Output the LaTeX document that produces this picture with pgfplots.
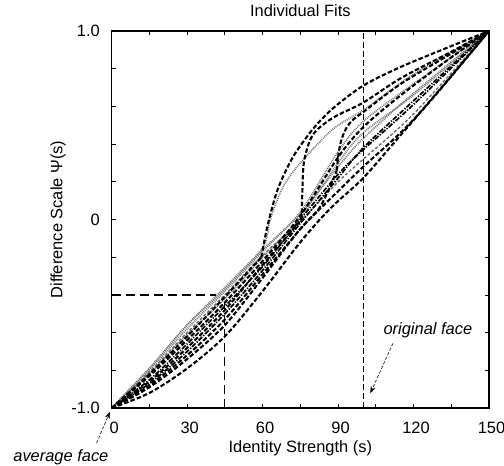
\documentclass[border=0pt]{standalone}
\usepackage{fontspec}
\setmainfont{Liberation Sans}
\usepackage{pgfplots}
\pgfplotsset{compat=1.18}
\usetikzlibrary{arrows.meta}
\pgfplotsset{
  blk/.style={black, line width=2.1bp, dash pattern=on 4.5bp off 2.2bp, smooth},
  gdot/.style={black!55, line width=1.7bp, dash pattern=on 0.9bp off 1.0bp, smooth},
  gdash/.style={black!60, line width=1.3bp, dash pattern=on 3bp off 2bp, smooth},
  bdd/.style={black, line width=1.7bp, dash pattern=on 5bp off 1.5bp on 1.2bp off 1.5bp, smooth},
}
\begin{document}
\fontsize{16.5}{19.8}\selectfont
\begin{tikzpicture}
\begin{axis}[
  name=ax,
  scale only axis, width=377.3bp, height=377bp,
  xmin=0, xmax=150, ymin=-1, ymax=1,
  xtick={0,30,60,90,120,150}, xticklabels={0,30,60,90,120,150},
  minor xtick={15,45,75,105,135},
  ytick={-1,0,1}, yticklabels={-1.0,0,1.0},
  minor ytick={-0.8,-0.6,-0.4,-0.2,0.2,0.4,0.6,0.8},
  tick align=inside, major tick length=4bp, minor tick length=4bp,
  tick style={black, line width=0.8bp},
  axis line style={black, line width=1.3bp},
  xticklabel style={anchor=center, inner sep=0pt, yshift=-20bp, xshift=2.5bp},
  yticklabel style={anchor=east, inner sep=0pt, xshift=-11.7bp},
  xlabel={Identity Strength (s)},
  ylabel={Difference Scale Ψ(s)},
  title={Individual Fits},
  xlabel style={at={(axis description cs:0.5,-0.106)}, anchor=center, inner sep=0pt},
  ylabel style={at={(axis description cs:-0.1423,0.5)}, anchor=center, inner sep=0pt},
  title style={at={(axis description cs:0.5,1.038)}, anchor=center, inner sep=0pt},
  clip=false,
]
% reference lines
\addplot[black, line width=0.8bp, dash pattern=on 6bp off 3bp] coordinates {(100,-1) (100,1)};
\addplot[black, line width=1.2bp, dash pattern=on 9bp off 5bp] coordinates {(0,-0.4) (41.5,-0.4)};
\addplot[black, line width=1.2bp, dash pattern=on 9bp off 5bp] coordinates {(45,-1) (45,-0.44)};
% grey curves
\addplot[gdot] coordinates {(0,-1) (15,-0.79) (30,-0.56) (45,-0.37) (60,-0.15) (63,0.0) (68,0.17) (75,0.30) (88,0.48) (100,0.58) (120,0.77) (150,1)};
\addplot[gdot] coordinates {(0,-1) (15,-0.79) (30,-0.56) (45,-0.36) (60,-0.16) (75,0.03) (90,0.28) (100,0.43) (120,0.67) (150,1)};
\addplot[gdot] coordinates {(0,-1) (15,-0.80) (30,-0.58) (45,-0.38) (60,-0.17) (75,0.04) (90,0.36) (100,0.52) (120,0.72) (150,1)};
\addplot[gdot] coordinates {(0,-1) (15,-0.82) (30,-0.61) (45,-0.42) (60,-0.20) (75,0.01) (90,0.30) (100,0.46) (120,0.66) (150,1)};
\addplot[gdash] coordinates {(0,-1) (15,-0.81) (30,-0.60) (45,-0.40) (60,-0.19) (75,-0.01) (90,0.20) (100,0.32) (120,0.56) (150,1)};
% black curves
\addplot[blk] coordinates {(0,-1) (15,-0.82) (30,-0.62) (45,-0.41) (59.5,-0.2)};
\addplot[blk] coordinates {(59.5,-0.2) (62,-0.03) (66,0.16) (72,0.33) (80,0.48) (88,0.59) (100,0.71) (115,0.81) (135,0.92) (150,1)};
\addplot[blk] coordinates {(0,-1) (15,-0.86) (30,-0.68) (45,-0.48) (60,-0.24) (75.5,0.0)};
\addplot[blk] coordinates {(75.5,0.0) (75.8,0.15) (76.5,0.31) (80,0.45) (88,0.54) (100,0.62) (115,0.75) (135,0.89) (150,1)};
\addplot[blk] coordinates {(0,-1) (15,-0.88) (30,-0.72) (45,-0.53) (60,-0.29) (75,-0.05) (83,0.07) (89.5,0.26)};
\addplot[blk] coordinates {(89.5,0.26) (90.3,0.36) (91.5,0.43) (93.5,0.49) (96,0.53) (100,0.57) (115,0.72) (135,0.88) (150,1)};
\addplot[blk] coordinates {(0,-1) (15,-0.83) (30,-0.64) (45,-0.44) (60,-0.22) (75,0.02) (90,0.33) (100,0.49) (115,0.66) (135,0.86) (150,1)};
\addplot[bdd] coordinates {(0,-1) (15,-0.85) (30,-0.66) (45,-0.46) (60,-0.25) (75,0.0) (90,0.24) (100,0.37) (120,0.61) (150,1)};
\addplot[bdd] coordinates {(0,-1) (15,-0.87) (30,-0.70) (45,-0.50) (60,-0.27) (75,-0.02) (90,0.22) (100,0.38) (120,0.63) (150,1)};
\addplot[blk] coordinates {(0,-1) (15,-0.89) (30,-0.74) (45,-0.56) (60,-0.31) (75,-0.05) (90,0.15) (100,0.28) (120,0.53) (150,1)};
\addplot[blk] coordinates {(0,-1) (15,-0.92) (30,-0.79) (45,-0.62) (60,-0.38) (75,-0.12) (87,0.06) (100,0.22) (115,0.45) (130,0.68) (150,1)};
% annotations
\node[font=\itshape, anchor=center] at (axis cs:-20.2,-1.26) {average face};
\draw[black, line width=0.6bp, densely dashed, -{Stealth[length=7bp,width=5bp]}] (axis cs:-6,-1.186) -- (axis cs:-0.7,-1.02);
\node[font=\itshape, anchor=center] at (axis cs:125.7,-0.586) {original face};
\draw[black, line width=0.6bp, densely dashed, -{Stealth[length=7bp,width=5bp]}] (axis cs:111.8,-0.657) -- (axis cs:102.8,-0.922);
\end{axis}
\pgfresetboundingbox
\path[use as bounding box] (ax.south west) ++(-111.7bp,-58bp) rectangle ([shift={(15bp,31bp)}]ax.north east);
\end{tikzpicture}
\end{document}
